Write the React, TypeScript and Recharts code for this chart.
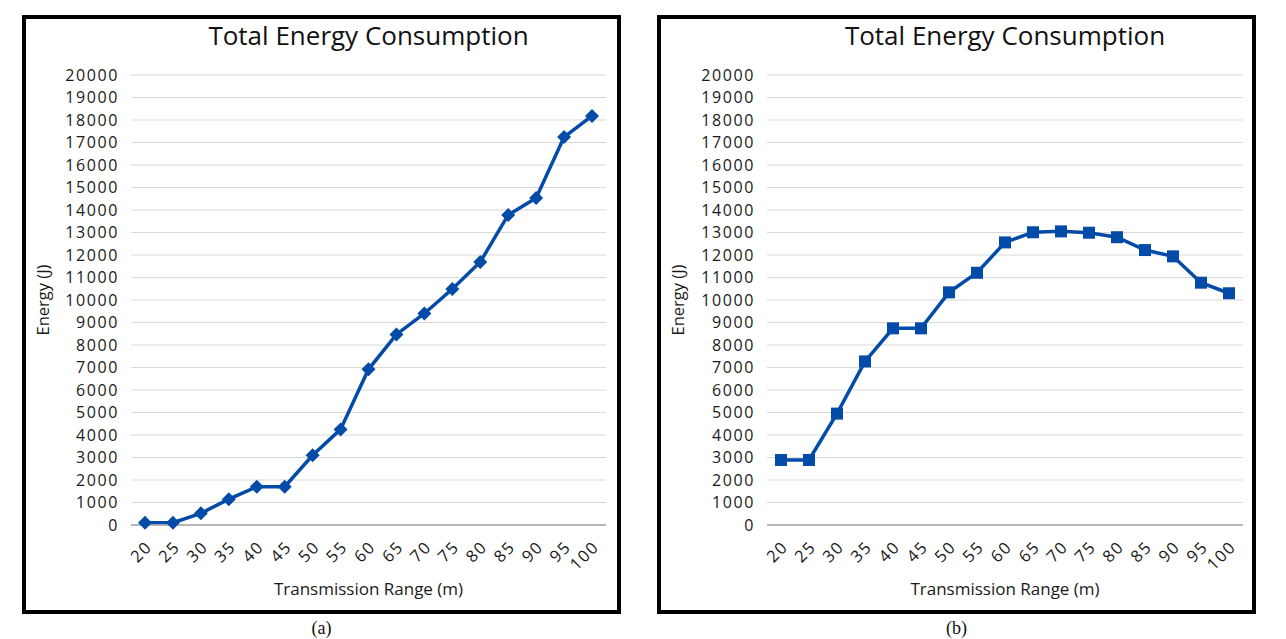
import { LineChart, Line, XAxis, YAxis, CartesianGrid } from 'recharts'

const ranges = ['20', '25', '30', '35', '40', '45', '50', '55', '60', '65', '70', '75', '80', '85', '90', '95', '100']

// (a) diamonds
const energyA = [100, 100, 520, 1150, 1700, 1700, 3100, 4250, 6920, 8470, 9400, 10490, 11690, 13780, 14530, 17240, 18180]

// (b) squares
const energyB = [2890, 2890, 4950, 7270, 8740, 8740, 10340, 11210, 12560, 13010, 13050, 12990, 12790, 12220, 11940, 10770, 10300]

const yTicks = [0, 1000, 2000, 3000, 4000, 5000, 6000, 7000, 8000, 9000, 10000, 11000, 12000, 13000, 14000, 15000, 16000, 17000, 18000, 19000, 20000]

const BLUE = '#034ba8'
const FONT = '"Open Sans", sans-serif'
const TEXT = '#1a1a1a'

function Diamond(props: any) {
  const { cx, cy } = props
  if (cx == null || cy == null) return null
  const r = 7
  return (
    <polygon
      points={`${cx},${cy - r} ${cx + r},${cy} ${cx},${cy + r} ${cx - r},${cy}`}
      fill={BLUE}
    />
  )
}

function Square(props: any) {
  const { cx, cy } = props
  if (cx == null || cy == null) return null
  return <rect x={cx - 6} y={cy - 6} width={12} height={12} fill={BLUE} />
}

function RangeTick(props: any) {
  const { x, y, payload } = props
  return (
    <g transform={`translate(${x + 8},${y + 15})`}>
      <text
        textAnchor="end"
        transform="rotate(-45)"
        fontFamily={FONT}
        fontSize={16.5}
        letterSpacing={1.5}
        fill={TEXT}
      >
        {payload.value}
      </text>
    </g>
  )
}

function Panel({ left, values, marker, yWidth, rightGap, caption }: any) {
  const data = ranges.map((r, i) => ({ range: r, energy: values[i] }))
  const plotW = 591 - yWidth - rightGap
  return (
    <>
      <div
        style={{
          position: 'absolute',
          left,
          top: 15,
          width: 599,
          height: 599,
          border: '4px solid #000',
          boxSizing: 'border-box',
          background: '#fff',
        }}
      >
        <LineChart
          width={591}
          height={591}
          data={data}
          margin={{ top: 56, right: rightGap, bottom: 0, left: 0 }}
        >
          <CartesianGrid vertical={false} stroke="#d9d9d9" strokeWidth={1.2} />
          <XAxis
            dataKey="range"
            interval={0}
            height={85}
            padding={{ left: 14, right: 14 }}
            axisLine={{ stroke: '#a6a6a6', strokeWidth: 1.5 }}
            tickLine={false}
            tick={<RangeTick />}
            label={{
              value: 'Transmission Range (m)',
              position: 'insideBottom',
              offset: 15,
              style: { fontFamily: FONT, fontSize: 17, fill: TEXT },
            }}
          />
          <YAxis
            width={yWidth}
            domain={[0, 20000]}
            ticks={yTicks}
            interval={0}
            axisLine={false}
            tickLine={false}
            tickMargin={6}
            tick={{ fontFamily: FONT, fontSize: 16, fill: TEXT, letterSpacing: 1.6 }}
            label={{
              value: 'Energy (J)',
              angle: -90,
              position: 'insideLeft',
              offset: 17,
              style: { textAnchor: 'middle', fontFamily: FONT, fontSize: 16.5, fill: TEXT },
            }}
          />
          <Line
            type="linear"
            dataKey="energy"
            stroke={BLUE}
            strokeWidth={3.5}
            dot={marker}
            activeDot={false}
            isAnimationActive={false}
          />
        </LineChart>
        <div
          style={{
            position: 'absolute',
            left: yWidth,
            top: 3,
            width: plotW,
            textAlign: 'center',
            fontFamily: FONT,
            fontSize: 26,
            lineHeight: '26px',
            color: '#111',
            whiteSpace: 'nowrap',
          }}
        >
          Total Energy Consumption
        </div>
      </div>
      <div
        style={{
          position: 'absolute',
          left,
          top: 619,
          width: 599,
          textAlign: 'center',
          fontFamily: '"Liberation Serif", serif',
          fontSize: 18,
          lineHeight: '18px',
          color: '#111',
        }}
      >
        {caption}
      </div>
    </>
  )
}

export default function App() {
  return (
    <div
      style={{
        position: 'absolute',
        left: 0,
        top: 0,
        width: 1286,
        height: 639,
        background: '#fff',
      }}
    >
      <Panel left={22} values={energyA} marker={<Diamond />} yWidth={105} rightGap={11} caption="(a)" />
      <Panel left={657} values={energyB} marker={<Square />} yWidth={106} rightGap={9} caption="(b)" />
    </div>
  )
}
